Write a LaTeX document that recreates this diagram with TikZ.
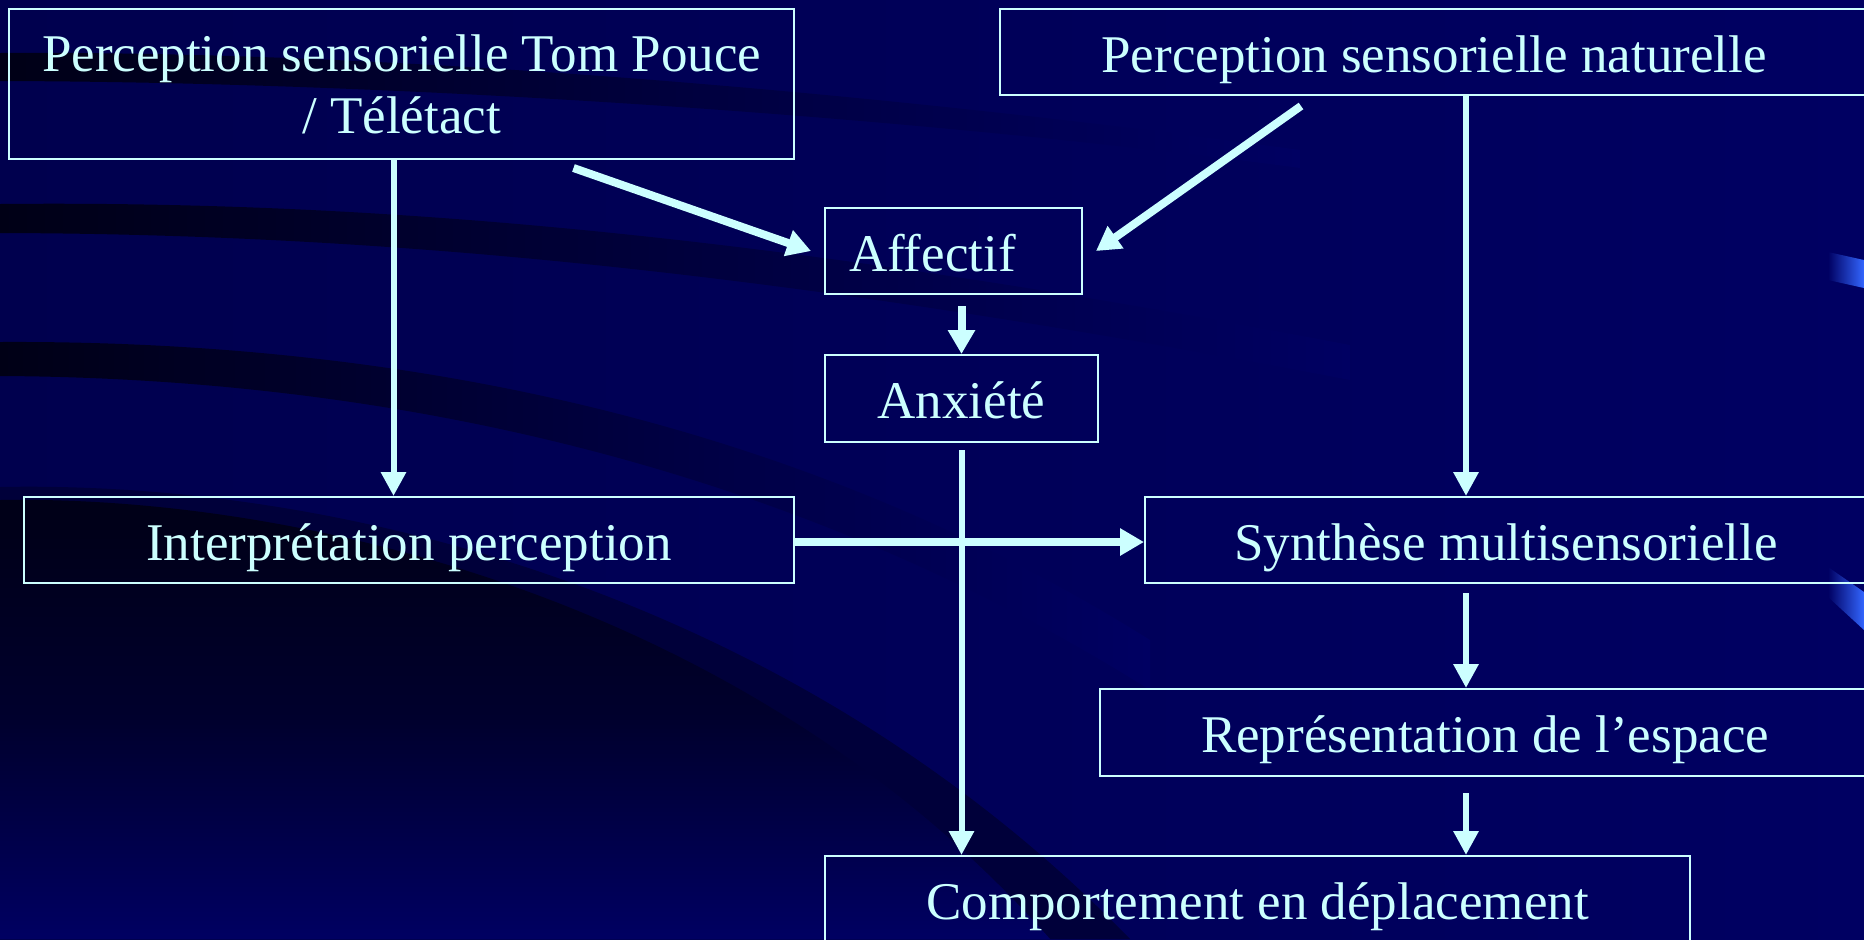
\documentclass[tikz,border=0pt]{standalone}
\usepackage{fontspec}
\setmainfont{Liberation Serif}
\usetikzlibrary{arrows.meta}

\definecolor{navy}{HTML}{000062}
\definecolor{navyleft}{HTML}{00004E}
\definecolor{nightband}{HTML}{000016}
\definecolor{dimband}{HTML}{00003A}
\definecolor{linecol}{HTML}{CCFFFF}
\definecolor{glint}{HTML}{3366FF}

\begin{document}
\begin{tikzpicture}[x=0.5pt,y=-0.5pt,
        framebox/.style={draw=linecol, line width=1pt, text=linecol, inner sep=0pt,
            align=center, font=\fontsize{26.5pt}{31pt}\selectfont},
        box/.style={framebox, text height=20pt, text depth=0pt},
        thinarrow/.style={draw=linecol, line width=3pt, -{Triangle[width=12pt,length=12pt]}},
        thickarrow/.style={draw=linecol, line width=4pt, -{Triangle[width=13pt,length=12pt]}}]
                \clip (0,0) rectangle (1864,939);
                \shade[left color=navyleft, right color=navy] (0,0) rectangle (1864,939);

                \shade[left color=nightband, right color=navy] (0,53) .. controls (400,50) and (900,95) .. (1300,150) -- (1300,168) .. controls (900,115) and (400,82) .. (0,81) -- cycle;
                \shade[left color=nightband, right color=navy] (0,204) .. controls (400,200) and (800,240) .. (1350,345) -- (1350,380) .. controls (800,275) and (400,234) .. (0,233) -- cycle;
                \shade[left color=nightband, right color=navy] (0,342) .. controls (400,340) and (800,420) .. (1150,640) -- (1150,690) .. controls (800,470) and (400,378) .. (0,376) -- cycle;
                \fill[dimband] (0,487) .. controls (350,480) and (800,600) .. (1130,939) -- (0,939) -- cycle;
                \shade[top color=nightband, bottom color=navy, middle color=nightband!70!navy] (0,500) .. controls (300,495) and (750,600) .. (1050,939) -- (0,939) -- cycle;

                \shade[left color=navy, right color=glint] (1828,252) -- (1864,260) -- (1864,288) -- (1828,280) -- cycle;
                \shade[left color=navy, right color=glint] (1828,567) -- (1864,592) -- (1864,630) -- (1828,597) -- cycle;

                \node[framebox, minimum width=392.5pt, minimum height=75pt] (tp) at (401.5,84) {Perception sensorielle Tom Pouce\\/ Télétact};
                \node[box, minimum width=434pt, minimum height=43pt] (nat) at (1434,52) {Perception sensorielle naturelle};
                \node[box, minimum width=128.5pt, minimum height=43pt, text width=104.5pt, align=left] (aff) at (953.5,251) {Affectif};
                \node[box, minimum width=136.5pt, minimum height=43.5pt] (anx) at (961.5,398.5) {Anxiété};
                \node[box, minimum width=385pt, minimum height=43pt] (interp) at (409,540) {Interprétation perception};
                \node[box, minimum width=361pt, minimum height=43pt] (syn) at (1506,540) {Synthèse multisensorielle};
                \node[box, minimum width=385pt, minimum height=43.5pt] (rep) at (1485,732.5) {Représentation de l’espace};
                \node[box, minimum width=432.5pt, minimum height=43pt] (comp) at (1257.5,899) {Comportement en déplacement};

                \coordinate (lcol) at ([xshift=-4pt]tp.south);
                \coordinate (rcol) at ([xshift=16pt]nat.south);

                \draw[thinarrow] (lcol) -- (lcol |- interp.north);
                \draw[thinarrow] (rcol) -- (rcol |- syn.north);
                \draw[thickarrow] ([xshift=86pt,yshift=-4pt]tp.south) -- ([xshift=-6.5pt]aff.west);
                \draw[thickarrow] ([xshift=-66.5pt,yshift=-5pt]nat.south) -- ([xshift=6.5pt]aff.east);
                \draw[thickarrow, shorten <=5.5pt] (anx.north |- aff.south) -- (anx.north);
                \draw[thinarrow, shorten <=3.5pt] (anx.south) -- (anx.south |- comp.north);
                \draw[thickarrow] ([yshift=-1pt]interp.east) -- ([yshift=-1pt]interp.east -| syn.west);
                \draw[thinarrow, shorten <=4.5pt] (rcol |- syn.south) -- (rcol |- rep.north);
                \draw[thinarrow, shorten <=8pt] (rcol |- rep.south) -- (rcol |- comp.north);
            \end{tikzpicture}
\end{document}
